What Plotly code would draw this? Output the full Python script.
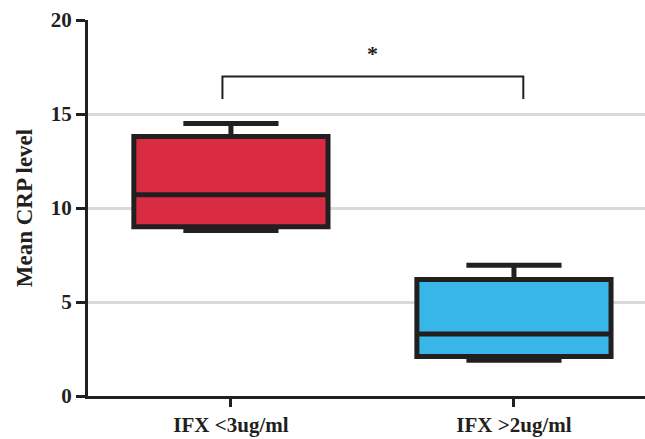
import plotly.graph_objects as go

categories = ["IFX <3ug/ml", "IFX >2ug/ml"]
q1 = [9.0, 2.1]
median = [10.7, 3.3]
q3 = [13.8, 6.2]
lower_whisker = [8.8, 1.9]
upper_whisker = [14.5, 6.95]
fill_colors = ["#D92B41", "#38B6E7"]

y_ticks = [0, 5, 10, 15, 20]
bracket_x = [-0.03, 1.033]
bracket_y = [15.8, 17.0]
sig_label = "*"

ink = "#231F20"
font_family = "Liberation Serif"

fig = go.Figure()
for i, cat in enumerate(categories):
    fig.add_trace(go.Box(
        x=[cat], q1=[q1[i]], median=[median[i]], q3=[q3[i]],
        lowerfence=[lower_whisker[i]], upperfence=[upper_whisker[i]],
        fillcolor=fill_colors[i],
        line=dict(color=ink, width=5),
        width=0.686, whiskerwidth=0.49,
        boxpoints=False, showlegend=False, hoverinfo="skip",
    ))

# significance bracket
fig.add_shape(type="path",
              path=f"M {bracket_x[0]},{bracket_y[0]} L {bracket_x[0]},{bracket_y[1]} "
                   f"L {bracket_x[1]},{bracket_y[1]} L {bracket_x[1]},{bracket_y[0]}",
              xref="x", yref="y", line=dict(color=ink, width=2))
fig.add_annotation(x=(bracket_x[0] + bracket_x[1]) / 2, y=18.2, text=sig_label,
                   showarrow=False, xref="x", yref="y",
                   font=dict(family=font_family, size=22, color=ink, weight="bold"))

fig.update_layout(
    width=645, height=439,
    margin=dict(l=88, r=0, t=20, b=43),
    paper_bgcolor="white", plot_bgcolor="white",
    font=dict(family=font_family, color=ink),
    xaxis=dict(
        type="category", categoryorder="array", categoryarray=categories,
        range=[-0.505, 1.463],
        showline=True, linecolor=ink, linewidth=3,
        ticks="outside", ticklen=8, tickwidth=3, tickcolor=ink,
        tickfont=dict(family=font_family, size=21, color=ink, weight="bold"),
        showgrid=False, zeroline=False,
    ),
    yaxis=dict(
        range=[0, 20], tickvals=y_ticks,
        showline=True, linecolor=ink, linewidth=3,
        ticks="outside", ticklen=9, tickwidth=3, tickcolor=ink,
        tickfont=dict(family=font_family, size=21, color=ink, weight="bold"),
        showgrid=True, gridcolor="#D9D9DA", gridwidth=3,
        zeroline=False,
        title=dict(text="Mean CRP level", standoff=12,
                   font=dict(family=font_family, size=23, color=ink, weight="bold")),
    ),
)

fig.write_html("out.html", config={"displayModeBar": False},
               post_script="document.body.style.margin='0';document.body.style.overflow='hidden';")
